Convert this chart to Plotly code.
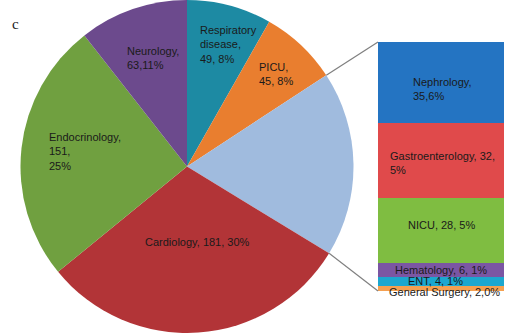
import math
import plotly.graph_objects as go

# ---- data ----
pie_labels = ["Respiratory disease", "PICU", "Other", "Cardiology", "Endocrinology", "Neurology"]
bar_labels = ["Nephrology", "Gastroenterology", "NICU", "Hematology", "ENT", "General Surgery"]
bar_values = [35, 32, 28, 6, 4, 2]
pie_main_values = [49, 45, 181, 151, 63]  # Respiratory, PICU, Cardiology, Endocrinology, Neurology
other_total = sum(bar_values)
pie_values = [pie_main_values[0], pie_main_values[1], other_total,
              pie_main_values[2], pie_main_values[3], pie_main_values[4]]

pie_colors = ["#1d8aa3", "#e97e2f", "#a0bbde", "#b23437", "#70a040", "#6c4a8d"]
bar_colors = ["#2474c2", "#e04a4b", "#7fbd41", "#7b56a3", "#1ca7cf", "#f5a050"]

W, H = 512, 333
FONT = "Liberation Sans, Arial, sans-serif"
TXT = "#1a1a1a"

def px(x):
    return x / W

def py(y):
    return 1 - y / H

# pie geometry (pixels)
cx, cy, r = 187.0, 166.5, 166.5
# bar geometry (pixels)
bx0, bx1, by0, by1 = 378.0, 504.0, 42.0, 291.0

fig = go.Figure()

fig.add_trace(go.Pie(
    labels=pie_labels, values=pie_values, sort=False, direction="clockwise",
    rotation=0, textinfo="none", hoverinfo="label+value+percent",
    marker=dict(colors=pie_colors, line=dict(width=0)),
    domain=dict(x=[px(cx - r), px(cx + r)], y=[0, 1]),
    showlegend=False,
))

# stacked bar: bottom first
for lab, val, col in reversed(list(zip(bar_labels, bar_values, bar_colors))):
    fig.add_trace(go.Bar(
        x=[0], y=[val], name=lab, marker=dict(color=col, line=dict(width=0)),
        width=1, xaxis="x", yaxis="y", showlegend=False,
    ))

fig.update_layout(
    width=W, height=H, margin=dict(l=0, r=0, t=0, b=0),
    paper_bgcolor="white", plot_bgcolor="white",
    barmode="stack", bargap=0,
    xaxis=dict(domain=[px(bx0), px(bx1)], range=[-0.5, 0.5], visible=False, fixedrange=True),
    yaxis=dict(domain=[py(by1), py(by0)], range=[0, other_total], visible=False, fixedrange=True),
    font=dict(family=FONT, size=11, color=TXT),
)

# connector lines computed from slice boundaries
total = sum(pie_values)
a1 = (pie_values[0] + pie_values[1]) / total * 2 * math.pi
a2 = (pie_values[0] + pie_values[1] + pie_values[2]) / total * 2 * math.pi
p1 = (cx + r * math.sin(a1), cy - r * math.cos(a1))
p2 = (cx + r * math.sin(a2), cy - r * math.cos(a2))
for (x0, y0), (x1, y1) in [(p1, (bx0, by0)), (p2, (bx0, by1))]:
    fig.add_shape(type="line", xref="paper", yref="paper",
                  x0=px(x0), y0=py(y0), x1=px(x1), y1=py(y1),
                  line=dict(color="#7f7f7f", width=1.2))

def ann(text, x, y, xanchor="left", yanchor="middle", align="left", size=11, family=FONT):
    fig.add_annotation(text=text, x=px(x), y=py(y), xref="paper", yref="paper",
                       xanchor=xanchor, yanchor=yanchor, align=align, showarrow=False,
                       font=dict(size=size, family=family, color=TXT))

ann("c", 10, 24, size=15, family="Liberation Serif, Times New Roman, serif")
ann("Neurology,<br>63,11%", 125, 58, )
ann("Respiratory<br>disease,<br>49, 8%", 198, 45)
ann("PICU,<br>45, 8%", 257, 74)
ann("Endocrinology,<br>151,<br>25%", 47, 151)
ann("Cardiology, 181, 30%", 197, 242, xanchor="center", align="center")
ann("Nephrology,<br>35,6%", 411, 89)
ann("Gastroenterology, 32,<br>5%", 388, 163)
ann("NICU, 28, 5%", 441, 225, xanchor="center", align="center")
ann("Hematology, 6, 1%", 441, 270, xanchor="center", align="center")
ann("ENT, 4, 1%", 435, 281, xanchor="center", align="center")
ann("General Surgery, 2,0%", 444, 292, xanchor="center", align="center")

fig.write_html("out.html")
